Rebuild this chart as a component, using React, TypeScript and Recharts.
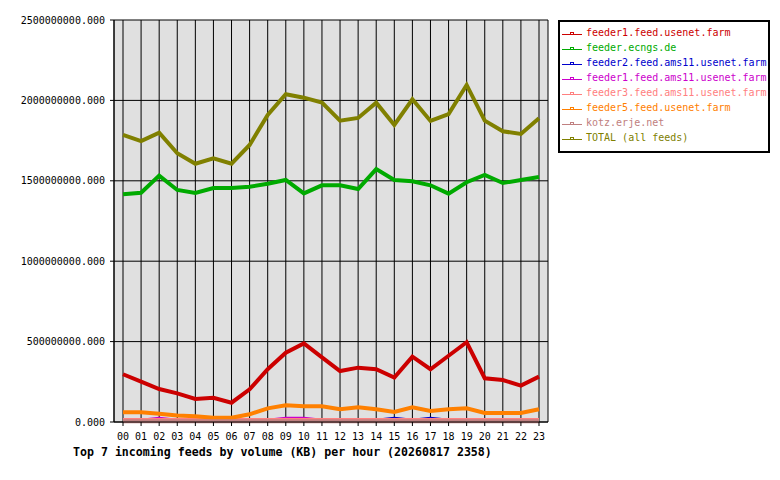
import React from 'react';
import { LineChart, Line, XAxis, YAxis, CartesianGrid } from 'recharts';

// values in millions of KB
const hours = ['00','01','02','03','04','05','06','07','08','09','10','11','12','13','14','15','16','17','18','19','20','21','22','23'];
const feeder1Usenet = [297,251,205,178,143,151,120,203,328,431,489,402,317,338,328,276,406,328,412,496,272,261,226,282];
const ecngs = [1416,1426,1532,1443,1424,1455,1455,1463,1482,1505,1422,1472,1472,1449,1573,1505,1497,1472,1420,1491,1536,1486,1505,1524];
const feeder2Ams = [8,8,8,8,8,8,8,8,8,8,8,8,8,8,8,20,8,20,8,8,8,8,8,8];
const feeder1Ams = [8,8,20,8,8,8,8,8,8,20,20,8,8,8,8,8,8,8,8,8,8,8,8,8];
const feeder3Ams = [12,12,12,12,12,12,12,12,12,12,12,12,12,12,12,12,12,12,12,12,12,12,12,12];
const feeder5Usenet = [60,60,52,41,35,27,27,48,85,104,98,98,79,91,79,62,91,68,79,85,56,56,56,79];
const kotz = [5,5,5,5,5,5,5,5,5,5,5,5,5,5,5,5,5,5,5,5,5,5,5,5];
const total = [1785,1747,1799,1671,1606,1640,1606,1723,1909,2038,2017,1986,1874,1891,1986,1847,2007,1872,1915,2096,1874,1808,1791,1889];
const yTicks = [0, 500000000, 1000000000, 1500000000, 2000000000, 2500000000];

const seriesList = [
  { key: 'f1u', name: 'feeder1.feed.usenet.farm', color: '#cc0000', values: feeder1Usenet },
  { key: 'ecn', name: 'feeder.ecngs.de', color: '#00aa00', values: ecngs },
  { key: 'f2a', name: 'feeder2.feed.ams11.usenet.farm', color: '#0000cc', values: feeder2Ams },
  { key: 'f1a', name: 'feeder1.feed.ams11.usenet.farm', color: '#cc00cc', values: feeder1Ams },
  { key: 'f3a', name: 'feeder3.feed.ams11.usenet.farm', color: '#ff8080', values: feeder3Ams },
  { key: 'f5u', name: 'feeder5.feed.usenet.farm', color: '#ff8000', values: feeder5Usenet },
  { key: 'kot', name: 'kotz.erje.net', color: '#c08080', values: kotz },
  { key: 'tot', name: 'TOTAL (all feeds)', color: '#808000', values: total },
];

const data = hours.map((h, i) => {
  const row: Record<string, any> = { hour: h };
  seriesList.forEach((s) => { row[s.key] = s.values[i] * 1e6; });
  return row;
});

const mono = "'DejaVu Sans Mono', 'Liberation Mono', monospace";

export default function App() {
  return (
    <div style={{ position: 'absolute', left: 0, top: 0, width: 780, height: 480, background: '#fff' }}>
      <LineChart width={780} height={480} data={data} margin={{ top: 20, right: 232, bottom: 38, left: 0 }}>
        <CartesianGrid stroke="#000" strokeWidth={1} fill="#e0e0e0" fillOpacity={1} />
        <XAxis
          dataKey="hour"
          padding={{ left: 9, right: 9 }}
          interval={0}
          height={20}
          tickSize={4}
          tickMargin={7}
          axisLine={{ stroke: '#000' }}
          tickLine={{ stroke: '#000' }}
          tick={{ fill: '#000', fontSize: 10, fontFamily: mono }}
        />
        <YAxis
          width={114}
          domain={[0, 2500000000]}
          ticks={yTicks}
          interval={0}
          tickSize={4}
          tickMargin={5}
          axisLine={{ stroke: '#000' }}
          tickLine={{ stroke: '#000' }}
          tick={{ fill: '#000', fontSize: 10, fontFamily: mono }}
          tickFormatter={(v: number) => v.toFixed(3)}
        />
        <YAxis
          yAxisId="r"
          orientation="right"
          width={0}
          domain={[0, 1]}
          tick={false}
          tickLine={false}
          axisLine={{ stroke: '#000' }}
        />
        {seriesList.map((s) => (
          <Line
            key={s.key}
            type="linear"
            dataKey={s.key}
            name={s.name}
            stroke={s.color}
            strokeWidth={4}
            dot={false}
            activeDot={false}
            isAnimationActive={false}
          />
        ))}
      </LineChart>
      <div
        style={{
          position: 'absolute',
          left: 558,
          top: 20,
          width: 208,
          height: 126,
          border: '2px solid #000',
          paddingTop: 3,
          boxSizing: 'content-box',
          fontFamily: mono,
          fontSize: 10,
          background: '#fff',
        }}
      >
        {seriesList.map((s) => (
          <div key={s.key} style={{ display: 'flex', alignItems: 'center', height: 15, lineHeight: '15px', color: s.color, whiteSpace: 'nowrap' }}>
            <svg width={20} height={9} style={{ marginLeft: 2, marginRight: 4, flex: 'none' }}>
              <line x1={0} y1={6.5} x2={20} y2={6.5} stroke={s.color} strokeWidth={1} />
              <rect x={8.5} y={4.5} width={3} height={2} fill="none" stroke={s.color} strokeWidth={1} />
            </svg>
            <span>{s.name}</span>
          </div>
        ))}
      </div>
      <div
        style={{
          position: 'absolute',
          left: 73,
          top: 445,
          fontFamily: mono,
          fontSize: 11.6,
          fontWeight: 'bold',
          lineHeight: '14px',
          color: '#000',
          whiteSpace: 'nowrap',
        }}
      >
        Top 7 incoming feeds by volume (KB) per hour (20260817 2358)
      </div>
    </div>
  );
}
